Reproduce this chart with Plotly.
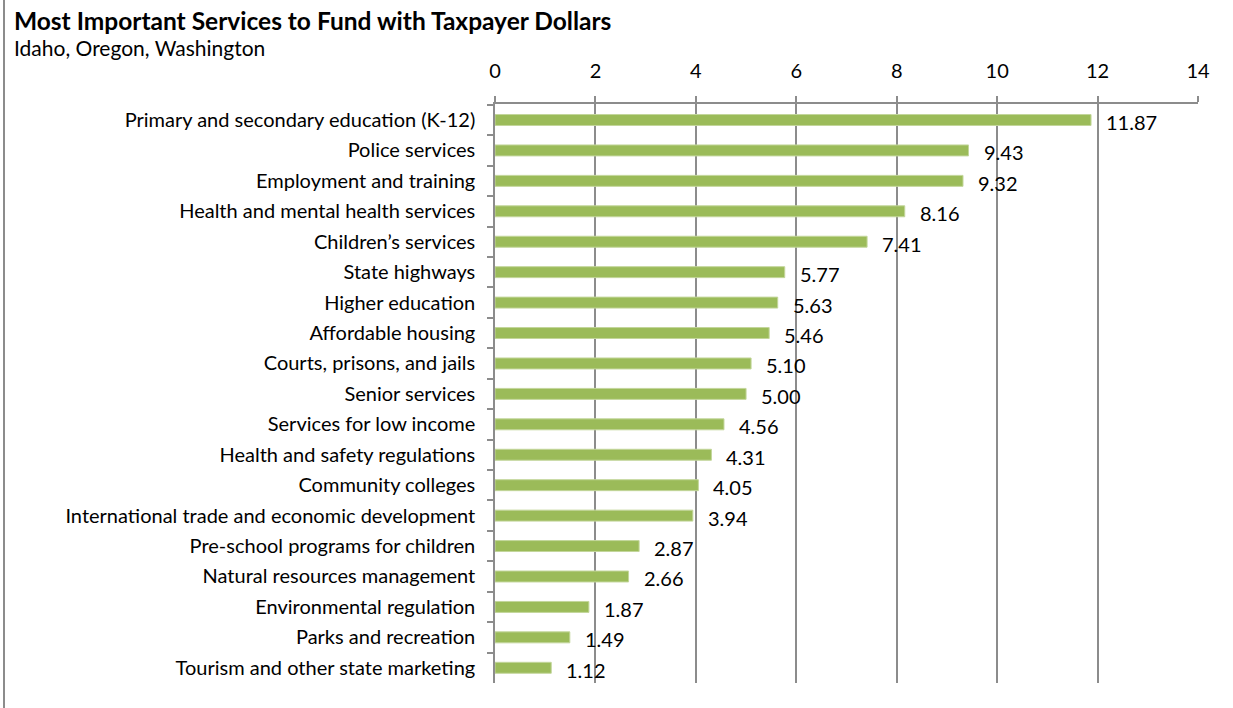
import plotly.graph_objects as go

services = [
    "Primary and secondary education (K-12)",
    "Police services",
    "Employment and training",
    "Health and mental health services",
    "Children\u2019s services",
    "State highways",
    "Higher education",
    "Affordable housing",
    "Courts, prisons, and jails",
    "Senior services",
    "Services for low income",
    "Health and safety regulations",
    "Community colleges",
    "International trade and economic development",
    "Pre-school programs for children",
    "Natural resources management",
    "Environmental regulation",
    "Parks and recreation",
    "Tourism and other state marketing",
]
scores = [11.87, 9.43, 9.32, 8.16, 7.41, 5.77, 5.63, 5.46, 5.10, 5.00,
          4.56, 4.31, 4.05, 3.94, 2.87, 2.66, 1.87, 1.49, 1.12]
x_ticks = [0, 2, 4, 6, 8, 10, 12, 14]

FONT = "Lato, Carlito, Calibri, sans-serif"
GRID = "#8c8c8c"
PLOT_W = 703   # plot area width in px
PLOT_H = 579   # plot area height in px

fig = go.Figure(
    go.Bar(
        x=scores,
        y=services,
        orientation="h",
        width=0.36,
        marker=dict(color="#9bbb59", line=dict(color="#c3d69b", width=1)),
        hoverinfo="x+y",
    )
)

# value labels to the right of each bar
for s, v in zip(services, scores):
    fig.add_annotation(
        x=v, y=s, text=f"{v:.2f}", showarrow=False,
        xanchor="left", yanchor="middle", xshift=13, yshift=-2,
        font=dict(family=FONT, size=20, color="#000000"),
    )

fig.add_annotation(
    xref="paper", yref="paper", x=(12 - 495) / PLOT_W, y=1, yshift=104 - 4,
    xanchor="left", yanchor="top",
    text="<b>Most Important Services to Fund with Taxpayer Dollars</b>",
    showarrow=False, font=dict(family=FONT, size=24.5, color="#000000"),
)
fig.add_annotation(
    xref="paper", yref="paper", x=(12 - 495) / PLOT_W, y=1, yshift=104 - 33,
    xanchor="left", yanchor="top",
    text="Idaho, Oregon, Washington",
    showarrow=False, font=dict(family=FONT, size=21, color="#000000"),
)

# frame line along the left edge
fig.add_shape(
    type="line", xref="paper", yref="paper",
    x0=-491 / PLOT_W, x1=-491 / PLOT_W, y0=-25 / PLOT_H, y1=1 + 104 / PLOT_H,
    line=dict(color="#8c8c8c", width=2),
)

fig.update_layout(
    width=1233, height=708,
    margin=dict(l=495, r=35, t=104, b=25),
    plot_bgcolor="white", paper_bgcolor="white",
    showlegend=False,
    xaxis=dict(
        side="top", range=[0, 14], tickvals=x_ticks,
        showgrid=True, gridcolor=GRID, gridwidth=1.5,
        showline=True, linecolor=GRID, linewidth=1.5,
        ticks="outside", ticklen=6, tickcolor=GRID, tickwidth=1.5,
        ticklabelstandoff=10,
        tickfont=dict(family=FONT, size=20, color="#000000"),
        zeroline=False, fixedrange=True,
    ),
    yaxis=dict(
        autorange="reversed", categoryorder="array", categoryarray=services,
        showline=True, linecolor=GRID, linewidth=1.5,
        ticks="outside", ticklen=6, tickcolor=GRID, tickwidth=1.5,
        tickson="boundaries", showgrid=False,
        tickfont=dict(family=FONT, size=20, color="#000000"),
        ticklabelstandoff=14,
        fixedrange=True,
    ),
)

fig.write_html("out.html")
